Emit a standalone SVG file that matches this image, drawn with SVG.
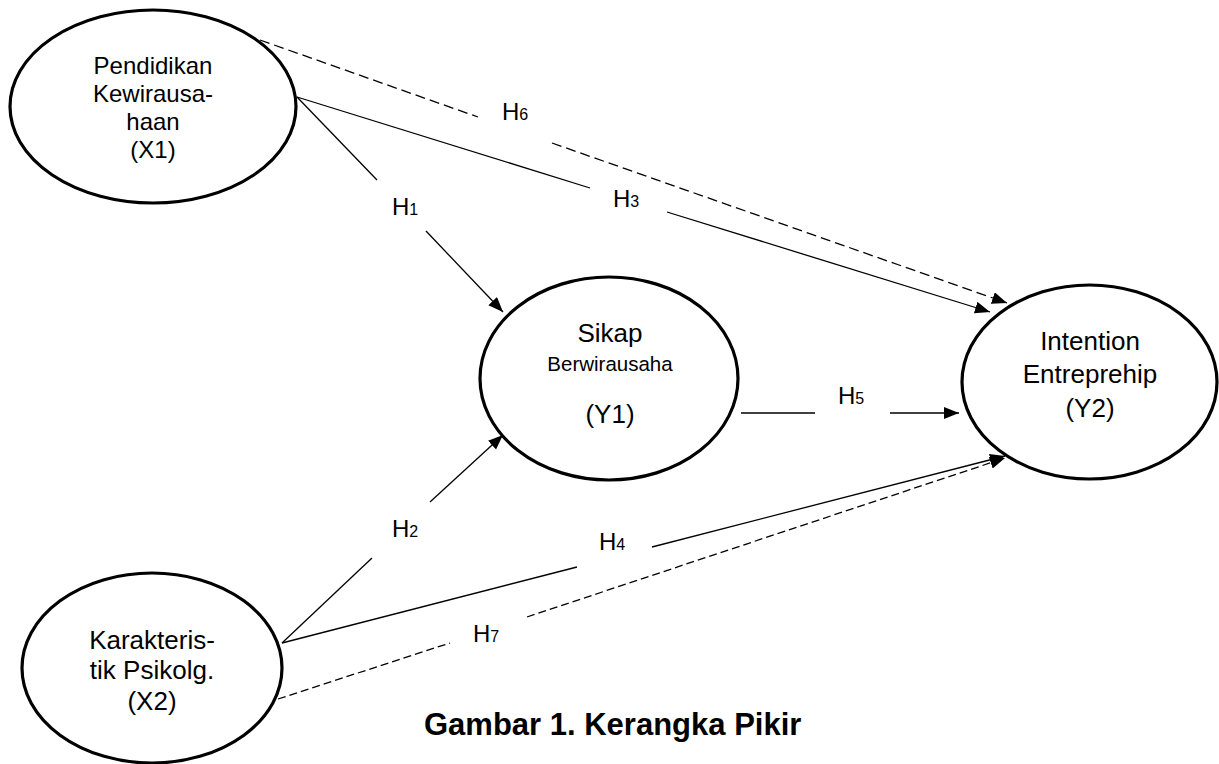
<svg xmlns="http://www.w3.org/2000/svg" width="1219" height="764" viewBox="0 0 1219 764">
<style>
.node{fill:#fff;stroke:#000;stroke-width:3.2}
.t{font-family:"Liberation Sans",Arial,sans-serif;fill:#000;text-anchor:middle}
.h{font-family:"Liberation Sans",Arial,sans-serif;fill:#000;font-size:24px}
.h tspan{font-size:16px}
.ln{fill:none;stroke:#000;stroke-width:1.3}
.d1{stroke-dasharray:10 5}
.d2{stroke-dasharray:8 4}
</style>
<defs>
<marker id="arr" markerUnits="userSpaceOnUse" markerWidth="16" markerHeight="13" refX="15" refY="6" orient="auto">
<path d="M0,0 L15,6 L0,12 z" fill="#000"/>
</marker>
</defs>
<rect width="1219" height="764" fill="#fff"/>
<g id="connectors">
<path class="ln" d="M297,97 L377,180"/>
<path class="ln" d="M426,231 L503,312" marker-end="url(#arr)"/>
<path class="ln" d="M297,97 L590,188"/>
<path class="ln" d="M667,212 L990,312" marker-end="url(#arr)"/>
<path class="ln d1" d="M260,40 L478,117"/>
<path class="ln d1" d="M552,143 L1007,303" marker-end="url(#arr)"/>
<path class="ln" d="M741,413 L815,413"/>
<path class="ln" d="M890,413 L959,413" marker-end="url(#arr)"/>
<path class="ln" d="M282,643 L372,558"/>
<path class="ln" d="M430,502 L503,435" marker-end="url(#arr)"/>
<path class="ln" d="M282,643 L577,567"/>
<path class="ln" d="M652,547 L1005,456" marker-end="url(#arr)"/>
<path class="ln d2" d="M278,699 L450,643"/>
<path class="ln d2" d="M527,617 L1005,458" marker-end="url(#arr)"/>
<text class="h" x="502" y="120">H<tspan>6</tspan></text>
<text class="h" x="613" y="207">H<tspan>3</tspan></text>
<text class="h" x="392" y="215">H<tspan>1</tspan></text>
<text class="h" x="838" y="404">H<tspan>5</tspan></text>
<text class="h" x="392" y="537">H<tspan>2</tspan></text>
<text class="h" x="599" y="550">H<tspan>4</tspan></text>
<text class="h" x="473" y="642">H<tspan>7</tspan></text>
</g>
<g id="x1">
<ellipse class="node" cx="153" cy="106.5" rx="143" ry="96.5"/>
<text class="t" font-size="24" x="153" y="74">Pendidikan</text>
<text class="t" font-size="24" x="153" y="102">Kewirausa-</text>
<text class="t" font-size="24" x="153" y="130">haan</text>
<text class="t" font-size="24" x="153" y="158">(X1)</text>
</g>
<g id="y1">
<ellipse class="node" cx="609" cy="378.5" rx="129" ry="101.5"/>
<text class="t" font-size="26" x="610" y="342">Sikap</text>
<text class="t" font-size="20.5" x="610" y="371">Berwirausaha</text>
<text class="t" font-size="26" x="610" y="423">(Y1)</text>
</g>
<g id="y2">
<ellipse class="node" cx="1089.5" cy="382" rx="127.5" ry="97"/>
<text class="t" font-size="26" x="1090" y="350">Intention</text>
<text class="t" font-size="26" x="1090" y="383">Entreprehip</text>
<text class="t" font-size="26" x="1090" y="417">(Y2)</text>
</g>
<g id="x2">
<ellipse class="node" cx="152" cy="668" rx="130" ry="95"/>
<text class="t" font-size="26" x="152" y="649">Karakteris-</text>
<text class="t" font-size="26" x="152" y="679">tik Psikolg.</text>
<text class="t" font-size="26" x="152" y="710">(X2)</text>
</g>
<g id="caption">
<text x="424" y="735" font-family="'Liberation Sans',Arial,sans-serif" font-size="31" font-weight="bold" fill="#000">Gambar 1. Kerangka Pikir</text>
</g>
</svg>
